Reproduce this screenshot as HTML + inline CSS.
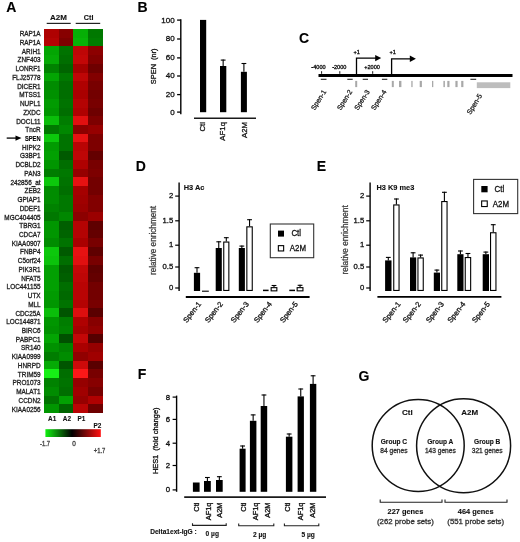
<!DOCTYPE html>
<html><head><meta charset="utf-8"><title>Figure</title>
<style>
html,body{margin:0;padding:0;background:#fff;}
body{width:520px;height:542px;overflow:hidden;}
svg{display:block;font-family:"Liberation Sans", sans-serif;filter:blur(0.35px);}
</style></head><body>
<svg width="520" height="542" viewBox="0 0 520 542">
<text x="6.2" y="12.4" font-size="14" text-anchor="start" font-weight="bold" fill="#000" stroke="#000" stroke-width="0.12" >A</text>
<text x="137.6" y="12.4" font-size="14" text-anchor="start" font-weight="bold" fill="#000" stroke="#000" stroke-width="0.12" >B</text>
<text x="299.0" y="42.9" font-size="14" text-anchor="start" font-weight="bold" fill="#000" stroke="#000" stroke-width="0.12" >C</text>
<text x="135.8" y="171.4" font-size="14" text-anchor="start" font-weight="bold" fill="#000" stroke="#000" stroke-width="0.12" >D</text>
<text x="316.8" y="171.4" font-size="14" text-anchor="start" font-weight="bold" fill="#000" stroke="#000" stroke-width="0.12" >E</text>
<text x="137.8" y="378.9" font-size="14" text-anchor="start" font-weight="bold" fill="#000" stroke="#000" stroke-width="0.12" >F</text>
<text x="358.4" y="380.9" font-size="14" text-anchor="start" font-weight="bold" fill="#000" stroke="#000" stroke-width="0.12" >G</text>
<g shape-rendering="crispEdges">
<rect x="44.20" y="29.00" width="14.40" height="8.73" fill="rgb(175,1,1)" stroke="none" stroke-width="0"/>
<rect x="58.60" y="29.00" width="14.40" height="8.73" fill="rgb(135,0,0)" stroke="none" stroke-width="0"/>
<rect x="73.00" y="29.00" width="15.10" height="8.73" fill="rgb(6,175,6)" stroke="none" stroke-width="0"/>
<rect x="88.10" y="29.00" width="14.50" height="8.73" fill="rgb(0,120,0)" stroke="none" stroke-width="0"/>
<rect x="44.20" y="37.73" width="14.40" height="8.73" fill="rgb(180,3,3)" stroke="none" stroke-width="0"/>
<rect x="58.60" y="37.73" width="14.40" height="8.73" fill="rgb(125,0,0)" stroke="none" stroke-width="0"/>
<rect x="73.00" y="37.73" width="15.10" height="8.73" fill="rgb(7,180,7)" stroke="none" stroke-width="0"/>
<rect x="88.10" y="37.73" width="14.50" height="8.73" fill="rgb(0,125,0)" stroke="none" stroke-width="0"/>
<rect x="44.20" y="46.45" width="14.40" height="8.73" fill="rgb(3,165,3)" stroke="none" stroke-width="0"/>
<rect x="58.60" y="46.45" width="14.40" height="8.73" fill="rgb(0,115,0)" stroke="none" stroke-width="0"/>
<rect x="73.00" y="46.45" width="15.10" height="8.73" fill="rgb(190,6,6)" stroke="none" stroke-width="0"/>
<rect x="88.10" y="46.45" width="14.50" height="8.73" fill="rgb(140,0,0)" stroke="none" stroke-width="0"/>
<rect x="44.20" y="55.18" width="14.40" height="8.73" fill="rgb(5,170,5)" stroke="none" stroke-width="0"/>
<rect x="58.60" y="55.18" width="14.40" height="8.73" fill="rgb(0,110,0)" stroke="none" stroke-width="0"/>
<rect x="73.00" y="55.18" width="15.10" height="8.73" fill="rgb(195,7,7)" stroke="none" stroke-width="0"/>
<rect x="88.10" y="55.18" width="14.50" height="8.73" fill="rgb(130,0,0)" stroke="none" stroke-width="0"/>
<rect x="44.20" y="63.91" width="14.40" height="8.73" fill="rgb(0,130,0)" stroke="none" stroke-width="0"/>
<rect x="58.60" y="63.91" width="14.40" height="8.73" fill="rgb(0,100,0)" stroke="none" stroke-width="0"/>
<rect x="73.00" y="63.91" width="15.10" height="8.73" fill="rgb(165,0,0)" stroke="none" stroke-width="0"/>
<rect x="88.10" y="63.91" width="14.50" height="8.73" fill="rgb(110,0,0)" stroke="none" stroke-width="0"/>
<rect x="44.20" y="72.64" width="14.40" height="8.73" fill="rgb(3,165,3)" stroke="none" stroke-width="0"/>
<rect x="58.60" y="72.64" width="14.40" height="8.73" fill="rgb(0,120,0)" stroke="none" stroke-width="0"/>
<rect x="73.00" y="72.64" width="15.10" height="8.73" fill="rgb(190,6,6)" stroke="none" stroke-width="0"/>
<rect x="88.10" y="72.64" width="14.50" height="8.73" fill="rgb(130,0,0)" stroke="none" stroke-width="0"/>
<rect x="44.20" y="81.36" width="14.40" height="8.73" fill="rgb(0,140,0)" stroke="none" stroke-width="0"/>
<rect x="58.60" y="81.36" width="14.40" height="8.73" fill="rgb(0,110,0)" stroke="none" stroke-width="0"/>
<rect x="73.00" y="81.36" width="15.10" height="8.73" fill="rgb(175,1,1)" stroke="none" stroke-width="0"/>
<rect x="88.10" y="81.36" width="14.50" height="8.73" fill="rgb(120,0,0)" stroke="none" stroke-width="0"/>
<rect x="44.20" y="90.09" width="14.40" height="8.73" fill="rgb(0,145,0)" stroke="none" stroke-width="0"/>
<rect x="58.60" y="90.09" width="14.40" height="8.73" fill="rgb(0,110,0)" stroke="none" stroke-width="0"/>
<rect x="73.00" y="90.09" width="15.10" height="8.73" fill="rgb(170,0,0)" stroke="none" stroke-width="0"/>
<rect x="88.10" y="90.09" width="14.50" height="8.73" fill="rgb(115,0,0)" stroke="none" stroke-width="0"/>
<rect x="44.20" y="98.82" width="14.40" height="8.73" fill="rgb(1,155,1)" stroke="none" stroke-width="0"/>
<rect x="58.60" y="98.82" width="14.40" height="8.73" fill="rgb(0,115,0)" stroke="none" stroke-width="0"/>
<rect x="73.00" y="98.82" width="15.10" height="8.73" fill="rgb(180,3,3)" stroke="none" stroke-width="0"/>
<rect x="88.10" y="98.82" width="14.50" height="8.73" fill="rgb(120,0,0)" stroke="none" stroke-width="0"/>
<rect x="44.20" y="107.55" width="14.40" height="8.73" fill="rgb(0,150,0)" stroke="none" stroke-width="0"/>
<rect x="58.60" y="107.55" width="14.40" height="8.73" fill="rgb(0,110,0)" stroke="none" stroke-width="0"/>
<rect x="73.00" y="107.55" width="15.10" height="8.73" fill="rgb(175,1,1)" stroke="none" stroke-width="0"/>
<rect x="88.10" y="107.55" width="14.50" height="8.73" fill="rgb(110,0,0)" stroke="none" stroke-width="0"/>
<rect x="44.20" y="116.27" width="14.40" height="8.73" fill="rgb(10,190,10)" stroke="none" stroke-width="0"/>
<rect x="58.60" y="116.27" width="14.40" height="8.73" fill="rgb(0,125,0)" stroke="none" stroke-width="0"/>
<rect x="73.00" y="116.27" width="15.10" height="8.73" fill="rgb(225,16,16)" stroke="none" stroke-width="0"/>
<rect x="88.10" y="116.27" width="14.50" height="8.73" fill="rgb(125,0,0)" stroke="none" stroke-width="0"/>
<rect x="44.20" y="125.00" width="14.40" height="8.73" fill="rgb(0,120,0)" stroke="none" stroke-width="0"/>
<rect x="58.60" y="125.00" width="14.40" height="8.73" fill="rgb(0,135,0)" stroke="none" stroke-width="0"/>
<rect x="73.00" y="125.00" width="15.10" height="8.73" fill="rgb(140,0,0)" stroke="none" stroke-width="0"/>
<rect x="88.10" y="125.00" width="14.50" height="8.73" fill="rgb(150,0,0)" stroke="none" stroke-width="0"/>
<rect x="44.20" y="133.73" width="14.40" height="8.73" fill="rgb(12,200,12)" stroke="none" stroke-width="0"/>
<rect x="58.60" y="133.73" width="14.40" height="8.73" fill="rgb(0,115,0)" stroke="none" stroke-width="0"/>
<rect x="73.00" y="133.73" width="15.10" height="8.73" fill="rgb(230,18,18)" stroke="none" stroke-width="0"/>
<rect x="88.10" y="133.73" width="14.50" height="8.73" fill="rgb(125,0,0)" stroke="none" stroke-width="0"/>
<rect x="44.20" y="142.45" width="14.40" height="8.73" fill="rgb(1,155,1)" stroke="none" stroke-width="0"/>
<rect x="58.60" y="142.45" width="14.40" height="8.73" fill="rgb(0,115,0)" stroke="none" stroke-width="0"/>
<rect x="73.00" y="142.45" width="15.10" height="8.73" fill="rgb(185,4,4)" stroke="none" stroke-width="0"/>
<rect x="88.10" y="142.45" width="14.50" height="8.73" fill="rgb(125,0,0)" stroke="none" stroke-width="0"/>
<rect x="44.20" y="151.18" width="14.40" height="8.73" fill="rgb(2,160,2)" stroke="none" stroke-width="0"/>
<rect x="58.60" y="151.18" width="14.40" height="8.73" fill="rgb(0,90,0)" stroke="none" stroke-width="0"/>
<rect x="73.00" y="151.18" width="15.10" height="8.73" fill="rgb(190,6,6)" stroke="none" stroke-width="0"/>
<rect x="88.10" y="151.18" width="14.50" height="8.73" fill="rgb(100,0,0)" stroke="none" stroke-width="0"/>
<rect x="44.20" y="159.91" width="14.40" height="8.73" fill="rgb(0,150,0)" stroke="none" stroke-width="0"/>
<rect x="58.60" y="159.91" width="14.40" height="8.73" fill="rgb(0,110,0)" stroke="none" stroke-width="0"/>
<rect x="73.00" y="159.91" width="15.10" height="8.73" fill="rgb(175,1,1)" stroke="none" stroke-width="0"/>
<rect x="88.10" y="159.91" width="14.50" height="8.73" fill="rgb(120,0,0)" stroke="none" stroke-width="0"/>
<rect x="44.20" y="168.64" width="14.40" height="8.73" fill="rgb(0,125,0)" stroke="none" stroke-width="0"/>
<rect x="58.60" y="168.64" width="14.40" height="8.73" fill="rgb(0,120,0)" stroke="none" stroke-width="0"/>
<rect x="73.00" y="168.64" width="15.10" height="8.73" fill="rgb(150,0,0)" stroke="none" stroke-width="0"/>
<rect x="88.10" y="168.64" width="14.50" height="8.73" fill="rgb(125,0,0)" stroke="none" stroke-width="0"/>
<rect x="44.20" y="177.36" width="14.40" height="8.73" fill="rgb(12,200,12)" stroke="none" stroke-width="0"/>
<rect x="58.60" y="177.36" width="14.40" height="8.73" fill="rgb(0,115,0)" stroke="none" stroke-width="0"/>
<rect x="73.00" y="177.36" width="15.10" height="8.73" fill="rgb(230,18,18)" stroke="none" stroke-width="0"/>
<rect x="88.10" y="177.36" width="14.50" height="8.73" fill="rgb(115,0,0)" stroke="none" stroke-width="0"/>
<rect x="44.20" y="186.09" width="14.40" height="8.73" fill="rgb(0,140,0)" stroke="none" stroke-width="0"/>
<rect x="58.60" y="186.09" width="14.40" height="8.73" fill="rgb(0,110,0)" stroke="none" stroke-width="0"/>
<rect x="73.00" y="186.09" width="15.10" height="8.73" fill="rgb(165,0,0)" stroke="none" stroke-width="0"/>
<rect x="88.10" y="186.09" width="14.50" height="8.73" fill="rgb(115,0,0)" stroke="none" stroke-width="0"/>
<rect x="44.20" y="194.82" width="14.40" height="8.73" fill="rgb(0,140,0)" stroke="none" stroke-width="0"/>
<rect x="58.60" y="194.82" width="14.40" height="8.73" fill="rgb(0,120,0)" stroke="none" stroke-width="0"/>
<rect x="73.00" y="194.82" width="15.10" height="8.73" fill="rgb(160,0,0)" stroke="none" stroke-width="0"/>
<rect x="88.10" y="194.82" width="14.50" height="8.73" fill="rgb(130,0,0)" stroke="none" stroke-width="0"/>
<rect x="44.20" y="203.55" width="14.40" height="8.73" fill="rgb(0,130,0)" stroke="none" stroke-width="0"/>
<rect x="58.60" y="203.55" width="14.40" height="8.73" fill="rgb(0,120,0)" stroke="none" stroke-width="0"/>
<rect x="73.00" y="203.55" width="15.10" height="8.73" fill="rgb(155,0,0)" stroke="none" stroke-width="0"/>
<rect x="88.10" y="203.55" width="14.50" height="8.73" fill="rgb(130,0,0)" stroke="none" stroke-width="0"/>
<rect x="44.20" y="212.27" width="14.40" height="8.73" fill="rgb(0,120,0)" stroke="none" stroke-width="0"/>
<rect x="58.60" y="212.27" width="14.40" height="8.73" fill="rgb(0,135,0)" stroke="none" stroke-width="0"/>
<rect x="73.00" y="212.27" width="15.10" height="8.73" fill="rgb(140,0,0)" stroke="none" stroke-width="0"/>
<rect x="88.10" y="212.27" width="14.50" height="8.73" fill="rgb(155,0,0)" stroke="none" stroke-width="0"/>
<rect x="44.20" y="221.00" width="14.40" height="8.73" fill="rgb(0,150,0)" stroke="none" stroke-width="0"/>
<rect x="58.60" y="221.00" width="14.40" height="8.73" fill="rgb(0,95,0)" stroke="none" stroke-width="0"/>
<rect x="73.00" y="221.00" width="15.10" height="8.73" fill="rgb(180,3,3)" stroke="none" stroke-width="0"/>
<rect x="88.10" y="221.00" width="14.50" height="8.73" fill="rgb(95,0,0)" stroke="none" stroke-width="0"/>
<rect x="44.20" y="229.73" width="14.40" height="8.73" fill="rgb(0,150,0)" stroke="none" stroke-width="0"/>
<rect x="58.60" y="229.73" width="14.40" height="8.73" fill="rgb(0,100,0)" stroke="none" stroke-width="0"/>
<rect x="73.00" y="229.73" width="15.10" height="8.73" fill="rgb(180,3,3)" stroke="none" stroke-width="0"/>
<rect x="88.10" y="229.73" width="14.50" height="8.73" fill="rgb(100,0,0)" stroke="none" stroke-width="0"/>
<rect x="44.20" y="238.45" width="14.40" height="8.73" fill="rgb(0,140,0)" stroke="none" stroke-width="0"/>
<rect x="58.60" y="238.45" width="14.40" height="8.73" fill="rgb(0,115,0)" stroke="none" stroke-width="0"/>
<rect x="73.00" y="238.45" width="15.10" height="8.73" fill="rgb(170,0,0)" stroke="none" stroke-width="0"/>
<rect x="88.10" y="238.45" width="14.50" height="8.73" fill="rgb(120,0,0)" stroke="none" stroke-width="0"/>
<rect x="44.20" y="247.18" width="14.40" height="8.73" fill="rgb(12,200,12)" stroke="none" stroke-width="0"/>
<rect x="58.60" y="247.18" width="14.40" height="8.73" fill="rgb(0,90,0)" stroke="none" stroke-width="0"/>
<rect x="73.00" y="247.18" width="15.10" height="8.73" fill="rgb(230,18,18)" stroke="none" stroke-width="0"/>
<rect x="88.10" y="247.18" width="14.50" height="8.73" fill="rgb(95,0,0)" stroke="none" stroke-width="0"/>
<rect x="44.20" y="255.91" width="14.40" height="8.73" fill="rgb(11,195,11)" stroke="none" stroke-width="0"/>
<rect x="58.60" y="255.91" width="14.40" height="8.73" fill="rgb(0,110,0)" stroke="none" stroke-width="0"/>
<rect x="73.00" y="255.91" width="15.10" height="8.73" fill="rgb(225,16,16)" stroke="none" stroke-width="0"/>
<rect x="88.10" y="255.91" width="14.50" height="8.73" fill="rgb(120,0,0)" stroke="none" stroke-width="0"/>
<rect x="44.20" y="264.64" width="14.40" height="8.73" fill="rgb(2,160,2)" stroke="none" stroke-width="0"/>
<rect x="58.60" y="264.64" width="14.40" height="8.73" fill="rgb(0,90,0)" stroke="none" stroke-width="0"/>
<rect x="73.00" y="264.64" width="15.10" height="8.73" fill="rgb(195,7,7)" stroke="none" stroke-width="0"/>
<rect x="88.10" y="264.64" width="14.50" height="8.73" fill="rgb(95,0,0)" stroke="none" stroke-width="0"/>
<rect x="44.20" y="273.36" width="14.40" height="8.73" fill="rgb(2,160,2)" stroke="none" stroke-width="0"/>
<rect x="58.60" y="273.36" width="14.40" height="8.73" fill="rgb(0,95,0)" stroke="none" stroke-width="0"/>
<rect x="73.00" y="273.36" width="15.10" height="8.73" fill="rgb(190,6,6)" stroke="none" stroke-width="0"/>
<rect x="88.10" y="273.36" width="14.50" height="8.73" fill="rgb(100,0,0)" stroke="none" stroke-width="0"/>
<rect x="44.20" y="282.09" width="14.40" height="8.73" fill="rgb(2,160,2)" stroke="none" stroke-width="0"/>
<rect x="58.60" y="282.09" width="14.40" height="8.73" fill="rgb(0,110,0)" stroke="none" stroke-width="0"/>
<rect x="73.00" y="282.09" width="15.10" height="8.73" fill="rgb(185,4,4)" stroke="none" stroke-width="0"/>
<rect x="88.10" y="282.09" width="14.50" height="8.73" fill="rgb(115,0,0)" stroke="none" stroke-width="0"/>
<rect x="44.20" y="290.82" width="14.40" height="8.73" fill="rgb(1,155,1)" stroke="none" stroke-width="0"/>
<rect x="58.60" y="290.82" width="14.40" height="8.73" fill="rgb(0,105,0)" stroke="none" stroke-width="0"/>
<rect x="73.00" y="290.82" width="15.10" height="8.73" fill="rgb(185,4,4)" stroke="none" stroke-width="0"/>
<rect x="88.10" y="290.82" width="14.50" height="8.73" fill="rgb(115,0,0)" stroke="none" stroke-width="0"/>
<rect x="44.20" y="299.55" width="14.40" height="8.73" fill="rgb(0,150,0)" stroke="none" stroke-width="0"/>
<rect x="58.60" y="299.55" width="14.40" height="8.73" fill="rgb(0,115,0)" stroke="none" stroke-width="0"/>
<rect x="73.00" y="299.55" width="15.10" height="8.73" fill="rgb(180,3,3)" stroke="none" stroke-width="0"/>
<rect x="88.10" y="299.55" width="14.50" height="8.73" fill="rgb(120,0,0)" stroke="none" stroke-width="0"/>
<rect x="44.20" y="308.27" width="14.40" height="8.73" fill="rgb(10,190,10)" stroke="none" stroke-width="0"/>
<rect x="58.60" y="308.27" width="14.40" height="8.73" fill="rgb(0,85,0)" stroke="none" stroke-width="0"/>
<rect x="73.00" y="308.27" width="15.10" height="8.73" fill="rgb(220,15,15)" stroke="none" stroke-width="0"/>
<rect x="88.10" y="308.27" width="14.50" height="8.73" fill="rgb(90,0,0)" stroke="none" stroke-width="0"/>
<rect x="44.20" y="317.00" width="14.40" height="8.73" fill="rgb(0,150,0)" stroke="none" stroke-width="0"/>
<rect x="58.60" y="317.00" width="14.40" height="8.73" fill="rgb(0,125,0)" stroke="none" stroke-width="0"/>
<rect x="73.00" y="317.00" width="15.10" height="8.73" fill="rgb(175,1,1)" stroke="none" stroke-width="0"/>
<rect x="88.10" y="317.00" width="14.50" height="8.73" fill="rgb(135,0,0)" stroke="none" stroke-width="0"/>
<rect x="44.20" y="325.73" width="14.40" height="8.73" fill="rgb(0,145,0)" stroke="none" stroke-width="0"/>
<rect x="58.60" y="325.73" width="14.40" height="8.73" fill="rgb(0,130,0)" stroke="none" stroke-width="0"/>
<rect x="73.00" y="325.73" width="15.10" height="8.73" fill="rgb(165,0,0)" stroke="none" stroke-width="0"/>
<rect x="88.10" y="325.73" width="14.50" height="8.73" fill="rgb(145,0,0)" stroke="none" stroke-width="0"/>
<rect x="44.20" y="334.45" width="14.40" height="8.73" fill="rgb(3,165,3)" stroke="none" stroke-width="0"/>
<rect x="58.60" y="334.45" width="14.40" height="8.73" fill="rgb(0,80,0)" stroke="none" stroke-width="0"/>
<rect x="73.00" y="334.45" width="15.10" height="8.73" fill="rgb(195,7,7)" stroke="none" stroke-width="0"/>
<rect x="88.10" y="334.45" width="14.50" height="8.73" fill="rgb(85,0,0)" stroke="none" stroke-width="0"/>
<rect x="44.20" y="343.18" width="14.40" height="8.73" fill="rgb(0,145,0)" stroke="none" stroke-width="0"/>
<rect x="58.60" y="343.18" width="14.40" height="8.73" fill="rgb(0,130,0)" stroke="none" stroke-width="0"/>
<rect x="73.00" y="343.18" width="15.10" height="8.73" fill="rgb(170,0,0)" stroke="none" stroke-width="0"/>
<rect x="88.10" y="343.18" width="14.50" height="8.73" fill="rgb(150,0,0)" stroke="none" stroke-width="0"/>
<rect x="44.20" y="351.91" width="14.40" height="8.73" fill="rgb(0,125,0)" stroke="none" stroke-width="0"/>
<rect x="58.60" y="351.91" width="14.40" height="8.73" fill="rgb(0,140,0)" stroke="none" stroke-width="0"/>
<rect x="73.00" y="351.91" width="15.10" height="8.73" fill="rgb(145,0,0)" stroke="none" stroke-width="0"/>
<rect x="88.10" y="351.91" width="14.50" height="8.73" fill="rgb(160,0,0)" stroke="none" stroke-width="0"/>
<rect x="44.20" y="360.64" width="14.40" height="8.73" fill="rgb(5,170,5)" stroke="none" stroke-width="0"/>
<rect x="58.60" y="360.64" width="14.40" height="8.73" fill="rgb(0,85,0)" stroke="none" stroke-width="0"/>
<rect x="73.00" y="360.64" width="15.10" height="8.73" fill="rgb(205,10,10)" stroke="none" stroke-width="0"/>
<rect x="88.10" y="360.64" width="14.50" height="8.73" fill="rgb(90,0,0)" stroke="none" stroke-width="0"/>
<rect x="44.20" y="369.36" width="14.40" height="8.73" fill="rgb(22,240,22)" stroke="none" stroke-width="0"/>
<rect x="58.60" y="369.36" width="14.40" height="8.73" fill="rgb(0,110,0)" stroke="none" stroke-width="0"/>
<rect x="73.00" y="369.36" width="15.10" height="8.73" fill="rgb(250,24,24)" stroke="none" stroke-width="0"/>
<rect x="88.10" y="369.36" width="14.50" height="8.73" fill="rgb(120,0,0)" stroke="none" stroke-width="0"/>
<rect x="44.20" y="378.09" width="14.40" height="8.73" fill="rgb(0,130,0)" stroke="none" stroke-width="0"/>
<rect x="58.60" y="378.09" width="14.40" height="8.73" fill="rgb(0,115,0)" stroke="none" stroke-width="0"/>
<rect x="73.00" y="378.09" width="15.10" height="8.73" fill="rgb(150,0,0)" stroke="none" stroke-width="0"/>
<rect x="88.10" y="378.09" width="14.50" height="8.73" fill="rgb(135,0,0)" stroke="none" stroke-width="0"/>
<rect x="44.20" y="386.82" width="14.40" height="8.73" fill="rgb(0,140,0)" stroke="none" stroke-width="0"/>
<rect x="58.60" y="386.82" width="14.40" height="8.73" fill="rgb(0,110,0)" stroke="none" stroke-width="0"/>
<rect x="73.00" y="386.82" width="15.10" height="8.73" fill="rgb(160,0,0)" stroke="none" stroke-width="0"/>
<rect x="88.10" y="386.82" width="14.50" height="8.73" fill="rgb(120,0,0)" stroke="none" stroke-width="0"/>
<rect x="44.20" y="395.55" width="14.40" height="8.73" fill="rgb(0,115,0)" stroke="none" stroke-width="0"/>
<rect x="58.60" y="395.55" width="14.40" height="8.73" fill="rgb(2,160,2)" stroke="none" stroke-width="0"/>
<rect x="73.00" y="395.55" width="15.10" height="8.73" fill="rgb(150,0,0)" stroke="none" stroke-width="0"/>
<rect x="88.10" y="395.55" width="14.50" height="8.73" fill="rgb(175,1,1)" stroke="none" stroke-width="0"/>
<rect x="44.20" y="404.27" width="14.40" height="8.73" fill="rgb(0,150,0)" stroke="none" stroke-width="0"/>
<rect x="58.60" y="404.27" width="14.40" height="8.73" fill="rgb(0,100,0)" stroke="none" stroke-width="0"/>
<rect x="73.00" y="404.27" width="15.10" height="8.73" fill="rgb(185,4,4)" stroke="none" stroke-width="0"/>
<rect x="88.10" y="404.27" width="14.50" height="8.73" fill="rgb(110,0,0)" stroke="none" stroke-width="0"/>
</g>
<g transform="translate(40.6,0) scale(0.89,1)">
<text x="0" y="36.26" font-size="7.2" text-anchor="end" font-weight="normal" fill="#1e1e1e" stroke="#1e1e1e" stroke-width="0.32">RAP1A</text>
<text x="0" y="44.99" font-size="7.2" text-anchor="end" font-weight="normal" fill="#1e1e1e" stroke="#1e1e1e" stroke-width="0.32">RAP1A</text>
<text x="0" y="53.72" font-size="7.2" text-anchor="end" font-weight="normal" fill="#1e1e1e" stroke="#1e1e1e" stroke-width="0.32">ARIH1</text>
<text x="0" y="62.45" font-size="7.2" text-anchor="end" font-weight="normal" fill="#1e1e1e" stroke="#1e1e1e" stroke-width="0.32">ZNF403</text>
<text x="0" y="71.17" font-size="7.2" text-anchor="end" font-weight="normal" fill="#1e1e1e" stroke="#1e1e1e" stroke-width="0.32">LONRF1</text>
<text x="0" y="79.90" font-size="7.2" text-anchor="end" font-weight="normal" fill="#1e1e1e" stroke="#1e1e1e" stroke-width="0.32">FLJ25778</text>
<text x="0" y="88.63" font-size="7.2" text-anchor="end" font-weight="normal" fill="#1e1e1e" stroke="#1e1e1e" stroke-width="0.32">DICER1</text>
<text x="0" y="97.35" font-size="7.2" text-anchor="end" font-weight="normal" fill="#1e1e1e" stroke="#1e1e1e" stroke-width="0.32">MTSS1</text>
<text x="0" y="106.08" font-size="7.2" text-anchor="end" font-weight="normal" fill="#1e1e1e" stroke="#1e1e1e" stroke-width="0.32">NUPL1</text>
<text x="0" y="114.81" font-size="7.2" text-anchor="end" font-weight="normal" fill="#1e1e1e" stroke="#1e1e1e" stroke-width="0.32">ZXDC</text>
<text x="0" y="123.54" font-size="7.2" text-anchor="end" font-weight="normal" fill="#1e1e1e" stroke="#1e1e1e" stroke-width="0.32">DOCL11</text>
<text x="0" y="132.26" font-size="7.2" text-anchor="end" font-weight="normal" fill="#1e1e1e" stroke="#1e1e1e" stroke-width="0.32">TncR</text>
<text x="0" y="141.09" font-size="7.2" text-anchor="end" font-weight="bold" fill="#000" stroke="#000" stroke-width="0.12" transform="scale(0.9,1)">SPEN</text>
<text x="0" y="149.72" font-size="7.2" text-anchor="end" font-weight="normal" fill="#1e1e1e" stroke="#1e1e1e" stroke-width="0.32">HIPK2</text>
<text x="0" y="158.45" font-size="7.2" text-anchor="end" font-weight="normal" fill="#1e1e1e" stroke="#1e1e1e" stroke-width="0.32">G3BP1</text>
<text x="0" y="167.17" font-size="7.2" text-anchor="end" font-weight="normal" fill="#1e1e1e" stroke="#1e1e1e" stroke-width="0.32">DCBLD2</text>
<text x="0" y="175.90" font-size="7.2" text-anchor="end" font-weight="normal" fill="#1e1e1e" stroke="#1e1e1e" stroke-width="0.32">PAN3</text>
<text x="0" y="184.63" font-size="7.2" text-anchor="end" font-weight="normal" fill="#1e1e1e" stroke="#1e1e1e" stroke-width="0.32">242856_at</text>
<text x="0" y="193.35" font-size="7.2" text-anchor="end" font-weight="normal" fill="#1e1e1e" stroke="#1e1e1e" stroke-width="0.32">ZEB2</text>
<text x="0" y="202.08" font-size="7.2" text-anchor="end" font-weight="normal" fill="#1e1e1e" stroke="#1e1e1e" stroke-width="0.32">GPIAP1</text>
<text x="0" y="210.81" font-size="7.2" text-anchor="end" font-weight="normal" fill="#1e1e1e" stroke="#1e1e1e" stroke-width="0.32">DDEF1</text>
<text x="0" y="219.54" font-size="7.2" text-anchor="end" font-weight="normal" fill="#1e1e1e" stroke="#1e1e1e" stroke-width="0.32">MGC404405</text>
<text x="0" y="228.26" font-size="7.2" text-anchor="end" font-weight="normal" fill="#1e1e1e" stroke="#1e1e1e" stroke-width="0.32">TBRG1</text>
<text x="0" y="236.99" font-size="7.2" text-anchor="end" font-weight="normal" fill="#1e1e1e" stroke="#1e1e1e" stroke-width="0.32">CDCA7</text>
<text x="0" y="245.72" font-size="7.2" text-anchor="end" font-weight="normal" fill="#1e1e1e" stroke="#1e1e1e" stroke-width="0.32">KIAA0907</text>
<text x="0" y="254.45" font-size="7.2" text-anchor="end" font-weight="normal" fill="#1e1e1e" stroke="#1e1e1e" stroke-width="0.32">FNBP4</text>
<text x="0" y="263.17" font-size="7.2" text-anchor="end" font-weight="normal" fill="#1e1e1e" stroke="#1e1e1e" stroke-width="0.32">C5orf24</text>
<text x="0" y="271.90" font-size="7.2" text-anchor="end" font-weight="normal" fill="#1e1e1e" stroke="#1e1e1e" stroke-width="0.32">PIK3R1</text>
<text x="0" y="280.63" font-size="7.2" text-anchor="end" font-weight="normal" fill="#1e1e1e" stroke="#1e1e1e" stroke-width="0.32">NFAT5</text>
<text x="0" y="289.35" font-size="7.2" text-anchor="end" font-weight="normal" fill="#1e1e1e" stroke="#1e1e1e" stroke-width="0.32">LOC441155</text>
<text x="0" y="298.08" font-size="7.2" text-anchor="end" font-weight="normal" fill="#1e1e1e" stroke="#1e1e1e" stroke-width="0.32">UTX</text>
<text x="0" y="306.81" font-size="7.2" text-anchor="end" font-weight="normal" fill="#1e1e1e" stroke="#1e1e1e" stroke-width="0.32">MLL</text>
<text x="0" y="315.54" font-size="7.2" text-anchor="end" font-weight="normal" fill="#1e1e1e" stroke="#1e1e1e" stroke-width="0.32">CDC25A</text>
<text x="0" y="324.26" font-size="7.2" text-anchor="end" font-weight="normal" fill="#1e1e1e" stroke="#1e1e1e" stroke-width="0.32">LOC144871</text>
<text x="0" y="332.99" font-size="7.2" text-anchor="end" font-weight="normal" fill="#1e1e1e" stroke="#1e1e1e" stroke-width="0.32">BIRC6</text>
<text x="0" y="341.72" font-size="7.2" text-anchor="end" font-weight="normal" fill="#1e1e1e" stroke="#1e1e1e" stroke-width="0.32">PABPC1</text>
<text x="0" y="350.45" font-size="7.2" text-anchor="end" font-weight="normal" fill="#1e1e1e" stroke="#1e1e1e" stroke-width="0.32">SR140</text>
<text x="0" y="359.17" font-size="7.2" text-anchor="end" font-weight="normal" fill="#1e1e1e" stroke="#1e1e1e" stroke-width="0.32">KIAA0999</text>
<text x="0" y="367.90" font-size="7.2" text-anchor="end" font-weight="normal" fill="#1e1e1e" stroke="#1e1e1e" stroke-width="0.32">HNRPD</text>
<text x="0" y="376.63" font-size="7.2" text-anchor="end" font-weight="normal" fill="#1e1e1e" stroke="#1e1e1e" stroke-width="0.32">TRIM59</text>
<text x="0" y="385.35" font-size="7.2" text-anchor="end" font-weight="normal" fill="#1e1e1e" stroke="#1e1e1e" stroke-width="0.32">PRO1073</text>
<text x="0" y="394.08" font-size="7.2" text-anchor="end" font-weight="normal" fill="#1e1e1e" stroke="#1e1e1e" stroke-width="0.32">MALAT1</text>
<text x="0" y="402.81" font-size="7.2" text-anchor="end" font-weight="normal" fill="#1e1e1e" stroke="#1e1e1e" stroke-width="0.32">CCDN2</text>
<text x="0" y="411.54" font-size="7.2" text-anchor="end" font-weight="normal" fill="#1e1e1e" stroke="#1e1e1e" stroke-width="0.32">KIAA0256</text>
</g>
<line x1="6.7" y1="138.09" x2="17" y2="138.09" stroke="#000" stroke-width="1.3"/>
<polygon points="15.5,135.49 21.5,138.09 15.5,140.69" fill="#000"/>
<text x="50.0" y="19.6" font-size="8" text-anchor="start" font-weight="bold" fill="#111" stroke="#111" stroke-width="0.12" >A2M</text>
<text x="0" y="0" font-size="8" text-anchor="start" font-weight="bold" fill="#111" stroke="#111" stroke-width="0.12" transform="translate(83.8,19.6) scale(0.9,1)">Ctl</text>
<line x1="46.7" y1="23.4" x2="70.7" y2="23.4" stroke="#222" stroke-width="1.2"/>
<line x1="75.7" y1="23.4" x2="100.2" y2="23.4" stroke="#222" stroke-width="1.2"/>
<text x="0" y="0" font-size="7.3" text-anchor="start" font-weight="bold" fill="#111" stroke="#111" stroke-width="0.12" transform="translate(48.0,421.2) scale(0.88,1)">A1</text>
<text x="0" y="0" font-size="7.3" text-anchor="start" font-weight="bold" fill="#111" stroke="#111" stroke-width="0.12" transform="translate(62.8,421.2) scale(0.88,1)">A2</text>
<text x="0" y="0" font-size="7.3" text-anchor="start" font-weight="bold" fill="#111" stroke="#111" stroke-width="0.12" transform="translate(77.5,421.2) scale(0.88,1)">P1</text>
<text x="0" y="0" font-size="7.3" text-anchor="start" font-weight="bold" fill="#111" stroke="#111" stroke-width="0.12" transform="translate(93.6,427.6) scale(0.88,1)">P2</text>
<defs><linearGradient id="cb" x1="0" x2="1" y1="0" y2="0"><stop offset="0" stop-color="#10f010"/><stop offset="0.48" stop-color="#000"/><stop offset="1" stop-color="#ff1010"/></linearGradient></defs>
<rect x="45.4" y="429.2" width="55.4" height="7.8" fill="url(#cb)" stroke="none" stroke-width="0"/>
<text x="0" y="0" font-size="6.4" text-anchor="start" font-weight="normal" fill="#444" stroke="#444" stroke-width="0.32" transform="translate(40.0,446.4) scale(0.92,1)">-1.7</text>
<text x="72.3" y="446.4" font-size="6.4" text-anchor="start" font-weight="normal" fill="#444" stroke="#444" stroke-width="0.32" >0</text>
<text x="0" y="0" font-size="6.4" text-anchor="start" font-weight="normal" fill="#444" stroke="#444" stroke-width="0.32" transform="translate(93.8,453.4) scale(0.92,1)">+1.7</text>
<line x1="180.8" y1="19.3" x2="180.8" y2="114.3" stroke="#000" stroke-width="1.4"/>
<line x1="177.1" y1="20.1" x2="180.8" y2="20.1" stroke="#000" stroke-width="1.3"/>
<text x="174.6" y="23.1" font-size="8" text-anchor="end" font-weight="normal" fill="#111" stroke="#111" stroke-width="0.3">100</text>
<line x1="177.1" y1="39.0" x2="180.8" y2="39.0" stroke="#000" stroke-width="1.3"/>
<text x="174.6" y="41.4" font-size="8" text-anchor="end" font-weight="normal" fill="#111" stroke="#111" stroke-width="0.3">80</text>
<line x1="177.1" y1="57.9" x2="180.8" y2="57.9" stroke="#000" stroke-width="1.3"/>
<text x="174.6" y="60.3" font-size="8" text-anchor="end" font-weight="normal" fill="#111" stroke="#111" stroke-width="0.3">60</text>
<line x1="177.1" y1="76.0" x2="180.8" y2="76.0" stroke="#000" stroke-width="1.3"/>
<text x="174.6" y="78.4" font-size="8" text-anchor="end" font-weight="normal" fill="#111" stroke="#111" stroke-width="0.3">40</text>
<line x1="177.1" y1="94.6" x2="180.8" y2="94.6" stroke="#000" stroke-width="1.3"/>
<text x="174.6" y="97.0" font-size="8" text-anchor="end" font-weight="normal" fill="#111" stroke="#111" stroke-width="0.3">20</text>
<line x1="177.1" y1="112.1" x2="180.8" y2="112.1" stroke="#000" stroke-width="1.3"/>
<text x="174.6" y="114.5" font-size="8" text-anchor="end" font-weight="normal" fill="#111" stroke="#111" stroke-width="0.3">0</text>
<text x="0" y="0" font-size="7.4" text-anchor="middle" font-weight="normal" fill="#222" transform="translate(156.0,66.3) rotate(-90)" stroke="#111" stroke-width="0.3">SPEN&#160; (nr)</text>
<rect x="200.00" y="19.90" width="6.20" height="92.30" fill="#000" stroke="none" stroke-width="0"/>
<rect x="220.00" y="66.00" width="6.30" height="46.20" fill="#000" stroke="none" stroke-width="0"/>
<line x1="223.15" y1="66.00" x2="223.15" y2="59.60" stroke="#000" stroke-width="1.1"/>
<line x1="220.75" y1="60.10" x2="225.55" y2="60.10" stroke="#000" stroke-width="1.1"/>
<rect x="240.90" y="71.80" width="6.00" height="40.40" fill="#000" stroke="none" stroke-width="0"/>
<line x1="243.90" y1="71.80" x2="243.90" y2="63.00" stroke="#000" stroke-width="1.1"/>
<line x1="241.50" y1="63.50" x2="246.30" y2="63.50" stroke="#000" stroke-width="1.1"/>
<line x1="194" y1="118.3" x2="256" y2="118.3" stroke="#1a1a1a" stroke-width="1.6"/>
<text x="0" y="0" font-size="7.8" text-anchor="end" font-weight="normal" fill="#111" transform="translate(204.9,122.0) rotate(-90)" stroke="#111" stroke-width="0.3">Ctl</text>
<text x="0" y="0" font-size="7.8" text-anchor="end" font-weight="normal" fill="#111" transform="translate(225.2,122.0) rotate(-90)" stroke="#111" stroke-width="0.3">AF1q</text>
<text x="0" y="0" font-size="7.8" text-anchor="end" font-weight="normal" fill="#111" transform="translate(246.6,122.0) rotate(-90)" stroke="#111" stroke-width="0.3">A2M</text>
<rect x="318.5" y="74.0" width="194" height="3.0" fill="#000" stroke="none" stroke-width="0"/>
<line x1="321.6" y1="71.2" x2="321.6" y2="73.8" stroke="#000" stroke-width="0.9"/>
<text x="318.5" y="68.8" font-size="5.6" text-anchor="middle" font-weight="normal" fill="#111" stroke="#111" stroke-width="0.32" >-4000</text>
<line x1="339.8" y1="71.2" x2="339.8" y2="73.8" stroke="#000" stroke-width="0.9"/>
<text x="339.3" y="68.8" font-size="5.6" text-anchor="middle" font-weight="normal" fill="#111" stroke="#111" stroke-width="0.32" >-2000</text>
<line x1="372.7" y1="71.2" x2="372.7" y2="73.8" stroke="#000" stroke-width="0.9"/>
<text x="372.0" y="68.8" font-size="5.6" text-anchor="middle" font-weight="normal" fill="#111" stroke="#111" stroke-width="0.32" >+2000</text>
<polyline points="356.5,74 356.5,58.1 376.5,58.1" fill="none" stroke="#000" stroke-width="1.3"/>
<polygon points="375.2,54.9 381.2,58.1 375.2,61.3" fill="#000"/>
<polyline points="391.6,74.5 391.6,58.8 411,58.8" fill="none" stroke="#000" stroke-width="1.3"/>
<polygon points="409.8,55.6 415.9,58.8 409.8,62.0" fill="#000"/>
<text x="353.4" y="53.6" font-size="5.6" text-anchor="start" font-weight="normal" fill="#111" stroke="#111" stroke-width="0.32" >+1</text>
<text x="389.5" y="53.6" font-size="5.6" text-anchor="start" font-weight="normal" fill="#111" stroke="#111" stroke-width="0.32" >+1</text>
<line x1="320.8" y1="79.3" x2="326.5" y2="79.3" stroke="#222" stroke-width="1.1"/>
<line x1="347.3" y1="79.3" x2="352.7" y2="79.3" stroke="#222" stroke-width="1.1"/>
<line x1="362.7" y1="79.3" x2="368" y2="79.3" stroke="#222" stroke-width="1.1"/>
<line x1="381.9" y1="79.3" x2="387.3" y2="79.3" stroke="#222" stroke-width="1.1"/>
<line x1="470.4" y1="79.3" x2="476.2" y2="79.3" stroke="#222" stroke-width="1.1"/>
<rect x="355.2" y="80.9" width="2" height="6.2" fill="#a8a8a8" stroke="none" stroke-width="0"/>
<rect x="391.8" y="80.9" width="2" height="6.2" fill="#a8a8a8" stroke="none" stroke-width="0"/>
<rect x="399" y="80.9" width="2.4" height="6.2" fill="#a8a8a8" stroke="none" stroke-width="0"/>
<rect x="411.3" y="80.9" width="1.3" height="6.2" fill="#a8a8a8" stroke="none" stroke-width="0"/>
<rect x="419.7" y="80.9" width="2.2" height="6.2" fill="#a8a8a8" stroke="none" stroke-width="0"/>
<rect x="432" y="80.9" width="1.3" height="6.2" fill="#a8a8a8" stroke="none" stroke-width="0"/>
<rect x="443.4" y="80.9" width="1.5" height="6.2" fill="#a8a8a8" stroke="none" stroke-width="0"/>
<rect x="447.3" y="80.9" width="2.2" height="6.2" fill="#a8a8a8" stroke="none" stroke-width="0"/>
<rect x="455.4" y="80.9" width="2.2" height="6.2" fill="#a8a8a8" stroke="none" stroke-width="0"/>
<rect x="461.2" y="80.9" width="2.2" height="6.2" fill="#a8a8a8" stroke="none" stroke-width="0"/>
<rect x="476.8" y="82.3" width="33.5" height="5.8" fill="#bdbdbd" stroke="none" stroke-width="0"/>
<text x="0" y="0" font-size="7.0" text-anchor="end" font-weight="normal" fill="#222" stroke="#222" stroke-width="0.28" transform="translate(326.6,91.6) rotate(-58)">Spen-1</text>
<text x="0" y="0" font-size="7.0" text-anchor="end" font-weight="normal" fill="#222" stroke="#222" stroke-width="0.28" transform="translate(352.6,91.6) rotate(-58)">Spen-2</text>
<text x="0" y="0" font-size="7.0" text-anchor="end" font-weight="normal" fill="#222" stroke="#222" stroke-width="0.28" transform="translate(370.0,91.6) rotate(-58)">Spen-3</text>
<text x="0" y="0" font-size="7.0" text-anchor="end" font-weight="normal" fill="#222" stroke="#222" stroke-width="0.28" transform="translate(386.8,91.6) rotate(-58)">Spen-4</text>
<text x="0" y="0" font-size="7.0" text-anchor="end" font-weight="normal" fill="#222" stroke="#222" stroke-width="0.28" transform="translate(482.4,95.8) rotate(-58)">Spen-5</text>
<line x1="179.1" y1="182.6" x2="179.1" y2="291" stroke="#000" stroke-width="1.4"/>
<line x1="175.2" y1="196.1" x2="179.1" y2="196.1" stroke="#000" stroke-width="1.2"/>
<text x="173.2" y="198.2" font-size="7.7" text-anchor="end" font-weight="normal" fill="#111" stroke="#111" stroke-width="0.3">2</text>
<line x1="175.2" y1="220.8" x2="179.1" y2="220.8" stroke="#000" stroke-width="1.2"/>
<text x="173.2" y="222.9" font-size="7.7" text-anchor="end" font-weight="normal" fill="#111" stroke="#111" stroke-width="0.3">1.5</text>
<line x1="175.2" y1="245.2" x2="179.1" y2="245.2" stroke="#000" stroke-width="1.2"/>
<text x="173.2" y="247.3" font-size="7.7" text-anchor="end" font-weight="normal" fill="#111" stroke="#111" stroke-width="0.3">1</text>
<line x1="175.2" y1="267" x2="179.1" y2="267" stroke="#000" stroke-width="1.2"/>
<text x="173.2" y="269.1" font-size="7.7" text-anchor="end" font-weight="normal" fill="#111" stroke="#111" stroke-width="0.3">0.5</text>
<line x1="175.2" y1="288" x2="179.1" y2="288" stroke="#000" stroke-width="1.2"/>
<text x="173.2" y="290.1" font-size="7.7" text-anchor="end" font-weight="normal" fill="#111" stroke="#111" stroke-width="0.3">0</text>
<text x="0" y="0" font-size="8.2" text-anchor="middle" font-weight="normal" fill="#444" stroke="#444" stroke-width="0.32" transform="translate(156.3,240.5) rotate(-90)">relative enrichment</text>
<line x1="370.1" y1="182.6" x2="370.1" y2="291" stroke="#000" stroke-width="1.4"/>
<line x1="366.20000000000005" y1="196.1" x2="370.1" y2="196.1" stroke="#000" stroke-width="1.2"/>
<text x="364.20000000000005" y="198.2" font-size="7.7" text-anchor="end" font-weight="normal" fill="#111" stroke="#111" stroke-width="0.3">2</text>
<line x1="366.20000000000005" y1="220.8" x2="370.1" y2="220.8" stroke="#000" stroke-width="1.2"/>
<text x="364.20000000000005" y="222.9" font-size="7.7" text-anchor="end" font-weight="normal" fill="#111" stroke="#111" stroke-width="0.3">1.5</text>
<line x1="366.20000000000005" y1="245.2" x2="370.1" y2="245.2" stroke="#000" stroke-width="1.2"/>
<text x="364.20000000000005" y="247.3" font-size="7.7" text-anchor="end" font-weight="normal" fill="#111" stroke="#111" stroke-width="0.3">1</text>
<line x1="366.20000000000005" y1="267" x2="370.1" y2="267" stroke="#000" stroke-width="1.2"/>
<text x="364.20000000000005" y="269.1" font-size="7.7" text-anchor="end" font-weight="normal" fill="#111" stroke="#111" stroke-width="0.3">0.5</text>
<line x1="366.20000000000005" y1="288" x2="370.1" y2="288" stroke="#000" stroke-width="1.2"/>
<text x="364.20000000000005" y="290.1" font-size="7.7" text-anchor="end" font-weight="normal" fill="#111" stroke="#111" stroke-width="0.3">0</text>
<text x="0" y="0" font-size="8.2" text-anchor="middle" font-weight="normal" fill="#444" stroke="#444" stroke-width="0.32" transform="translate(347.7,239.9) rotate(-90)">relative enrichment</text>
<text x="183.7" y="189.9" font-size="7.4" text-anchor="start" font-weight="bold" fill="#111" stroke="#111" stroke-width="0.12" >H3 Ac</text>
<text x="376.5" y="189.9" font-size="7.4" text-anchor="start" font-weight="bold" fill="#111" stroke="#111" stroke-width="0.12" >H3 K9 me3</text>
<line x1="185.8" y1="297.0" x2="309.6" y2="297.0" stroke="#000" stroke-width="1.8"/>
<line x1="377.4" y1="296.9" x2="501.4" y2="296.9" stroke="#000" stroke-width="1.8"/>
<rect x="193.90" y="272.80" width="6.20" height="18.20" fill="#000" stroke="none" stroke-width="0"/>
<line x1="197.00" y1="272.80" x2="197.00" y2="267.20" stroke="#000" stroke-width="1.1"/>
<line x1="194.60" y1="267.70" x2="199.40" y2="267.70" stroke="#000" stroke-width="1.1"/>
<line x1="202" y1="291.2" x2="208.8" y2="291.2" stroke="#000" stroke-width="1.1"/>
<rect x="215.70" y="248.00" width="6.10" height="43.00" fill="#000" stroke="none" stroke-width="0"/>
<line x1="218.75" y1="248.00" x2="218.75" y2="241.30" stroke="#000" stroke-width="1.1"/>
<line x1="216.35" y1="241.80" x2="221.15" y2="241.80" stroke="#000" stroke-width="1.1"/>
<rect x="223.75" y="242.05" width="5.10" height="48.40" fill="#fff" stroke="#000" stroke-width="1.1"/>
<line x1="226.30" y1="241.50" x2="226.30" y2="237.20" stroke="#000" stroke-width="1.1"/>
<line x1="223.90" y1="237.70" x2="228.70" y2="237.70" stroke="#000" stroke-width="1.1"/>
<rect x="238.80" y="248.00" width="6.10" height="43.00" fill="#000" stroke="none" stroke-width="0"/>
<line x1="241.85" y1="248.00" x2="241.85" y2="245.60" stroke="#000" stroke-width="1.1"/>
<line x1="239.45" y1="246.10" x2="244.25" y2="246.10" stroke="#000" stroke-width="1.1"/>
<rect x="246.85" y="226.85" width="5.40" height="63.60" fill="#fff" stroke="#000" stroke-width="1.1"/>
<line x1="249.55" y1="226.30" x2="249.55" y2="219.20" stroke="#000" stroke-width="1.1"/>
<line x1="247.15" y1="219.70" x2="251.95" y2="219.70" stroke="#000" stroke-width="1.1"/>
<line x1="263.0" y1="290.4" x2="268.6" y2="290.4" stroke="#000" stroke-width="1.5"/>
<rect x="271.15" y="287.65" width="5.70" height="3.20" fill="#fff" stroke="#000" stroke-width="1.1"/>
<line x1="274.00" y1="287.10" x2="274.00" y2="285.00" stroke="#000" stroke-width="1.1"/>
<line x1="271.60" y1="285.50" x2="276.40" y2="285.50" stroke="#000" stroke-width="1.1"/>
<line x1="289.3" y1="290.4" x2="295.0" y2="290.4" stroke="#000" stroke-width="1.5"/>
<rect x="297.15" y="287.65" width="5.80" height="3.20" fill="#fff" stroke="#000" stroke-width="1.1"/>
<line x1="300.05" y1="287.10" x2="300.05" y2="284.80" stroke="#000" stroke-width="1.1"/>
<line x1="297.65" y1="285.30" x2="302.45" y2="285.30" stroke="#000" stroke-width="1.1"/>
<rect x="385.10" y="260.40" width="6.40" height="30.60" fill="#000" stroke="none" stroke-width="0"/>
<line x1="388.30" y1="260.40" x2="388.30" y2="256.90" stroke="#000" stroke-width="1.1"/>
<line x1="385.90" y1="257.40" x2="390.70" y2="257.40" stroke="#000" stroke-width="1.1"/>
<rect x="393.75" y="204.95" width="5.30" height="85.50" fill="#fff" stroke="#000" stroke-width="1.1"/>
<line x1="396.40" y1="204.40" x2="396.40" y2="198.50" stroke="#000" stroke-width="1.1"/>
<line x1="394.00" y1="199.00" x2="398.80" y2="199.00" stroke="#000" stroke-width="1.1"/>
<rect x="410.00" y="257.40" width="6.20" height="33.60" fill="#000" stroke="none" stroke-width="0"/>
<line x1="413.10" y1="257.40" x2="413.10" y2="252.30" stroke="#000" stroke-width="1.1"/>
<line x1="410.70" y1="252.80" x2="415.50" y2="252.80" stroke="#000" stroke-width="1.1"/>
<rect x="417.95" y="257.95" width="5.30" height="32.50" fill="#fff" stroke="#000" stroke-width="1.1"/>
<line x1="420.60" y1="257.40" x2="420.60" y2="254.60" stroke="#000" stroke-width="1.1"/>
<line x1="418.20" y1="255.10" x2="423.00" y2="255.10" stroke="#000" stroke-width="1.1"/>
<rect x="433.80" y="272.60" width="6.20" height="18.40" fill="#000" stroke="none" stroke-width="0"/>
<line x1="436.90" y1="272.60" x2="436.90" y2="269.60" stroke="#000" stroke-width="1.1"/>
<line x1="434.50" y1="270.10" x2="439.30" y2="270.10" stroke="#000" stroke-width="1.1"/>
<rect x="441.75" y="201.55" width="5.30" height="88.90" fill="#fff" stroke="#000" stroke-width="1.1"/>
<line x1="444.40" y1="201.00" x2="444.40" y2="191.80" stroke="#000" stroke-width="1.1"/>
<line x1="442.00" y1="192.30" x2="446.80" y2="192.30" stroke="#000" stroke-width="1.1"/>
<rect x="457.30" y="254.20" width="6.20" height="36.80" fill="#000" stroke="none" stroke-width="0"/>
<line x1="460.40" y1="254.20" x2="460.40" y2="250.50" stroke="#000" stroke-width="1.1"/>
<line x1="458.00" y1="251.00" x2="462.80" y2="251.00" stroke="#000" stroke-width="1.1"/>
<rect x="465.25" y="257.55" width="5.40" height="32.90" fill="#fff" stroke="#000" stroke-width="1.1"/>
<line x1="467.95" y1="257.00" x2="467.95" y2="253.00" stroke="#000" stroke-width="1.1"/>
<line x1="465.55" y1="253.50" x2="470.35" y2="253.50" stroke="#000" stroke-width="1.1"/>
<rect x="482.70" y="254.20" width="6.30" height="36.80" fill="#000" stroke="none" stroke-width="0"/>
<line x1="485.85" y1="254.20" x2="485.85" y2="251.60" stroke="#000" stroke-width="1.1"/>
<line x1="483.45" y1="252.10" x2="488.25" y2="252.10" stroke="#000" stroke-width="1.1"/>
<rect x="490.55" y="232.75" width="5.40" height="57.70" fill="#fff" stroke="#000" stroke-width="1.1"/>
<line x1="493.25" y1="232.20" x2="493.25" y2="224.20" stroke="#000" stroke-width="1.1"/>
<line x1="490.85" y1="224.70" x2="495.65" y2="224.70" stroke="#000" stroke-width="1.1"/>
<rect x="270.3" y="224" width="43.39999999999998" height="33.69999999999999" fill="#fff" stroke="#333" stroke-width="1.1"/>
<rect x="278.0" y="230.6" width="6.0" height="6.0" fill="#000" stroke="none" stroke-width="0"/>
<rect x="278.35" y="245.65000000000003" width="5.300000000000001" height="5.300000000000001" fill="#fff" stroke="#000" stroke-width="1.1"/>
<text x="0" y="0" font-size="8.6" text-anchor="start" font-weight="normal" fill="#111" stroke="#111" stroke-width="0.3" transform="translate(291.4,236.1) scale(0.92,1)">Ctl</text>
<text x="0" y="0" font-size="8.6" text-anchor="start" font-weight="normal" fill="#111" stroke="#111" stroke-width="0.3" transform="translate(289.8,251.4) scale(0.92,1)">A2M</text>
<rect x="473.6" y="179.4" width="44.10000000000002" height="34.19999999999999" fill="#fff" stroke="#333" stroke-width="1.1"/>
<rect x="481.3" y="186.0" width="6.3" height="6.3" fill="#000" stroke="none" stroke-width="0"/>
<rect x="481.65000000000003" y="200.95000000000002" width="5.6" height="5.6" fill="#fff" stroke="#000" stroke-width="1.1"/>
<text x="0" y="0" font-size="8.6" text-anchor="start" font-weight="normal" fill="#111" stroke="#111" stroke-width="0.3" transform="translate(494.6,191.6) scale(0.92,1)">Ctl</text>
<text x="0" y="0" font-size="8.6" text-anchor="start" font-weight="normal" fill="#111" stroke="#111" stroke-width="0.3" transform="translate(492.8,207.0) scale(0.92,1)">A2M</text>
<text x="0" y="0" font-size="7.5" text-anchor="end" font-weight="normal" fill="#1a1a1a" stroke="#1a1a1a" stroke-width="0.32" transform="translate(201.6,304.1) rotate(-52)">Spen-1</text>
<text x="0" y="0" font-size="7.5" text-anchor="end" font-weight="normal" fill="#1a1a1a" stroke="#1a1a1a" stroke-width="0.32" transform="translate(223.3,304.1) rotate(-52)">Spen-2</text>
<text x="0" y="0" font-size="7.5" text-anchor="end" font-weight="normal" fill="#1a1a1a" stroke="#1a1a1a" stroke-width="0.32" transform="translate(249.2,304.1) rotate(-52)">Spen-3</text>
<text x="0" y="0" font-size="7.5" text-anchor="end" font-weight="normal" fill="#1a1a1a" stroke="#1a1a1a" stroke-width="0.32" transform="translate(272.3,304.1) rotate(-52)">Spen-4</text>
<text x="0" y="0" font-size="7.5" text-anchor="end" font-weight="normal" fill="#1a1a1a" stroke="#1a1a1a" stroke-width="0.32" transform="translate(298.3,304.1) rotate(-52)">Spen-5</text>
<text x="0" y="0" font-size="7.5" text-anchor="end" font-weight="normal" fill="#1a1a1a" stroke="#1a1a1a" stroke-width="0.32" transform="translate(401.0,304.3) rotate(-52)">Spen-1</text>
<text x="0" y="0" font-size="7.5" text-anchor="end" font-weight="normal" fill="#1a1a1a" stroke="#1a1a1a" stroke-width="0.32" transform="translate(421.2,304.3) rotate(-52)">Spen-2</text>
<text x="0" y="0" font-size="7.5" text-anchor="end" font-weight="normal" fill="#1a1a1a" stroke="#1a1a1a" stroke-width="0.32" transform="translate(444.3,304.3) rotate(-52)">Spen-3</text>
<text x="0" y="0" font-size="7.5" text-anchor="end" font-weight="normal" fill="#1a1a1a" stroke="#1a1a1a" stroke-width="0.32" transform="translate(465.9,304.3) rotate(-52)">Spen-4</text>
<text x="0" y="0" font-size="7.5" text-anchor="end" font-weight="normal" fill="#1a1a1a" stroke="#1a1a1a" stroke-width="0.32" transform="translate(490.4,304.3) rotate(-52)">Spen-5</text>
<line x1="176.6" y1="395.6" x2="176.6" y2="491.8" stroke="#000" stroke-width="1.4"/>
<line x1="172.6" y1="397.1" x2="176.6" y2="397.1" stroke="#000" stroke-width="1.2"/>
<text x="170.0" y="399.6" font-size="7.8" text-anchor="end" font-weight="normal" fill="#111" stroke="#111" stroke-width="0.32" >8</text>
<line x1="172.6" y1="419.4" x2="176.6" y2="419.4" stroke="#000" stroke-width="1.2"/>
<text x="170.0" y="421.9" font-size="7.8" text-anchor="end" font-weight="normal" fill="#111" stroke="#111" stroke-width="0.32" >6</text>
<line x1="172.6" y1="443.2" x2="176.6" y2="443.2" stroke="#000" stroke-width="1.2"/>
<text x="170.0" y="445.7" font-size="7.8" text-anchor="end" font-weight="normal" fill="#111" stroke="#111" stroke-width="0.32" >4</text>
<line x1="172.6" y1="465.5" x2="176.6" y2="465.5" stroke="#000" stroke-width="1.2"/>
<text x="170.0" y="468.0" font-size="7.8" text-anchor="end" font-weight="normal" fill="#111" stroke="#111" stroke-width="0.32" >2</text>
<line x1="172.6" y1="489.9" x2="176.6" y2="489.9" stroke="#000" stroke-width="1.2"/>
<text x="170.0" y="492.4" font-size="7.8" text-anchor="end" font-weight="normal" fill="#111" stroke="#111" stroke-width="0.32" >0</text>
<text x="0" y="0" font-size="7.4" text-anchor="middle" font-weight="normal" fill="#111" stroke="#111" stroke-width="0.32" transform="translate(158.2,440.8) rotate(-90)">HES1&#160; (fold change)</text>
<rect x="192.90" y="482.50" width="6.70" height="9.30" fill="#000" stroke="none" stroke-width="0"/>
<rect x="204.00" y="481.00" width="6.80" height="10.80" fill="#000" stroke="none" stroke-width="0"/>
<line x1="207.40" y1="481.00" x2="207.40" y2="477.00" stroke="#000" stroke-width="1.1"/>
<line x1="205.00" y1="477.50" x2="209.80" y2="477.50" stroke="#000" stroke-width="1.1"/>
<rect x="216.00" y="480.00" width="6.70" height="11.80" fill="#000" stroke="none" stroke-width="0"/>
<line x1="219.35" y1="480.00" x2="219.35" y2="476.20" stroke="#000" stroke-width="1.1"/>
<line x1="216.95" y1="476.70" x2="221.75" y2="476.70" stroke="#000" stroke-width="1.1"/>
<rect x="239.60" y="448.70" width="6.00" height="43.10" fill="#000" stroke="none" stroke-width="0"/>
<line x1="242.60" y1="448.70" x2="242.60" y2="445.50" stroke="#000" stroke-width="1.1"/>
<line x1="240.20" y1="446.00" x2="245.00" y2="446.00" stroke="#000" stroke-width="1.1"/>
<rect x="249.90" y="420.80" width="6.50" height="71.00" fill="#000" stroke="none" stroke-width="0"/>
<line x1="253.15" y1="420.80" x2="253.15" y2="414.40" stroke="#000" stroke-width="1.1"/>
<line x1="250.75" y1="414.90" x2="255.55" y2="414.90" stroke="#000" stroke-width="1.1"/>
<rect x="260.70" y="406.00" width="6.50" height="85.80" fill="#000" stroke="none" stroke-width="0"/>
<line x1="263.95" y1="406.00" x2="263.95" y2="394.50" stroke="#000" stroke-width="1.1"/>
<line x1="261.55" y1="395.00" x2="266.35" y2="395.00" stroke="#000" stroke-width="1.1"/>
<rect x="285.90" y="436.70" width="6.50" height="55.10" fill="#000" stroke="none" stroke-width="0"/>
<line x1="289.15" y1="436.70" x2="289.15" y2="433.50" stroke="#000" stroke-width="1.1"/>
<line x1="286.75" y1="434.00" x2="291.55" y2="434.00" stroke="#000" stroke-width="1.1"/>
<rect x="297.60" y="396.40" width="6.30" height="95.40" fill="#000" stroke="none" stroke-width="0"/>
<line x1="300.75" y1="396.40" x2="300.75" y2="388.50" stroke="#000" stroke-width="1.1"/>
<line x1="298.35" y1="389.00" x2="303.15" y2="389.00" stroke="#000" stroke-width="1.1"/>
<rect x="309.90" y="383.90" width="6.40" height="107.90" fill="#000" stroke="none" stroke-width="0"/>
<line x1="313.10" y1="383.90" x2="313.10" y2="375.30" stroke="#000" stroke-width="1.1"/>
<line x1="310.70" y1="375.80" x2="315.50" y2="375.80" stroke="#000" stroke-width="1.1"/>
<line x1="184.2" y1="497.1" x2="326" y2="497.1" stroke="#1a1a1a" stroke-width="1.8"/>
<text x="0" y="0" font-size="7.4" text-anchor="end" font-weight="normal" fill="#111" stroke="#111" stroke-width="0.32" transform="translate(198.9,502.6) rotate(-90)">Ctl</text>
<text x="0" y="0" font-size="7.4" text-anchor="end" font-weight="normal" fill="#111" stroke="#111" stroke-width="0.32" transform="translate(210.5,502.6) rotate(-90)">AF1q</text>
<text x="0" y="0" font-size="7.4" text-anchor="end" font-weight="normal" fill="#111" stroke="#111" stroke-width="0.32" transform="translate(221.6,502.6) rotate(-90)">A2M</text>
<text x="0" y="0" font-size="7.4" text-anchor="end" font-weight="normal" fill="#111" stroke="#111" stroke-width="0.32" transform="translate(246.1,502.6) rotate(-90)">Ctl</text>
<text x="0" y="0" font-size="7.4" text-anchor="end" font-weight="normal" fill="#111" stroke="#111" stroke-width="0.32" transform="translate(258.0,502.6) rotate(-90)">AF1q</text>
<text x="0" y="0" font-size="7.4" text-anchor="end" font-weight="normal" fill="#111" stroke="#111" stroke-width="0.32" transform="translate(269.7,502.6) rotate(-90)">A2M</text>
<text x="0" y="0" font-size="7.4" text-anchor="end" font-weight="normal" fill="#111" stroke="#111" stroke-width="0.32" transform="translate(290.3,502.6) rotate(-90)">Ctl</text>
<text x="0" y="0" font-size="7.4" text-anchor="end" font-weight="normal" fill="#111" stroke="#111" stroke-width="0.32" transform="translate(302.8,502.6) rotate(-90)">AF1q</text>
<text x="0" y="0" font-size="7.4" text-anchor="end" font-weight="normal" fill="#111" stroke="#111" stroke-width="0.32" transform="translate(314.9,502.6) rotate(-90)">A2M</text>
<polyline points="192.5,523.1999999999999 192.5,525.4 226.2,525.4 226.2,523.1999999999999" fill="none" stroke="#222" stroke-width="1.1"/>
<polyline points="238.7,523.5999999999999 238.7,525.8 273.8,525.8 273.8,523.5999999999999" fill="none" stroke="#222" stroke-width="1.1"/>
<polyline points="284.4,523.5999999999999 284.4,525.8 318.8,525.8 318.8,523.5999999999999" fill="none" stroke="#222" stroke-width="1.1"/>
<text x="150.2" y="534.3" font-size="6.6" text-anchor="start" font-weight="bold" fill="#111" stroke="#111" stroke-width="0.12" >Delta1ext-IgG :</text>
<text x="205.6" y="536" font-size="6.6" text-anchor="start" font-weight="bold" fill="#111" stroke="#111" stroke-width="0.12" >0 µg</text>
<text x="253" y="536.6" font-size="6.6" text-anchor="start" font-weight="bold" fill="#111" stroke="#111" stroke-width="0.12" >2 µg</text>
<text x="301.5" y="536.6" font-size="6.6" text-anchor="start" font-weight="bold" fill="#111" stroke="#111" stroke-width="0.12" >5 µg</text>
<circle cx="418.2" cy="445.5" r="46" fill="none" stroke="#111" stroke-width="1.5"/>
<circle cx="463.6" cy="445.8" r="47" fill="none" stroke="#111" stroke-width="1.5"/>
<text x="407.4" y="415.0" font-size="8" text-anchor="middle" font-weight="bold" fill="#111" stroke="#111" stroke-width="0.12" >Ctl</text>
<text x="469.8" y="415.0" font-size="8" text-anchor="middle" font-weight="bold" fill="#111" stroke="#111" stroke-width="0.12" >A2M</text>
<text x="393.9" y="443.9" font-size="6.6" text-anchor="middle" font-weight="bold" fill="#111" stroke="#111" stroke-width="0.12" >Group C</text>
<text x="393.9" y="452.9" font-size="6.6" text-anchor="middle" font-weight="normal" fill="#333" stroke="#333" stroke-width="0.32" >84 genes</text>
<text x="440.3" y="443.9" font-size="6.6" text-anchor="middle" font-weight="bold" fill="#111" stroke="#111" stroke-width="0.12" >Group A</text>
<text x="440.3" y="452.9" font-size="6.6" text-anchor="middle" font-weight="normal" fill="#333" stroke="#333" stroke-width="0.32" >143 genes</text>
<text x="487.2" y="443.9" font-size="6.6" text-anchor="middle" font-weight="bold" fill="#111" stroke="#111" stroke-width="0.12" >Group B</text>
<text x="487.2" y="452.9" font-size="6.6" text-anchor="middle" font-weight="normal" fill="#333" stroke="#333" stroke-width="0.32" >321 genes</text>
<polyline points="380.2,499.4 380.2,502.2 442,502.2 442,499.4" fill="none" stroke="#222" stroke-width="1.1"/>
<polyline points="445,499.4 445,502.2 507,502.2 507,499.4" fill="none" stroke="#222" stroke-width="1.1"/>
<text x="405.4" y="514.3" font-size="7.4" text-anchor="middle" font-weight="bold" fill="#111" stroke="#111" stroke-width="0.12" >227 genes</text>
<text x="405.4" y="524.1" font-size="7.8" text-anchor="middle" font-weight="normal" fill="#333" stroke="#333" stroke-width="0.32" >(262 probe sets)</text>
<text x="475.7" y="514.3" font-size="7.4" text-anchor="middle" font-weight="bold" fill="#111" stroke="#111" stroke-width="0.12" >464 genes</text>
<text x="475.7" y="524.1" font-size="7.8" text-anchor="middle" font-weight="normal" fill="#333" stroke="#333" stroke-width="0.32" >(551 probe sets)</text>
</svg>
</body></html>
